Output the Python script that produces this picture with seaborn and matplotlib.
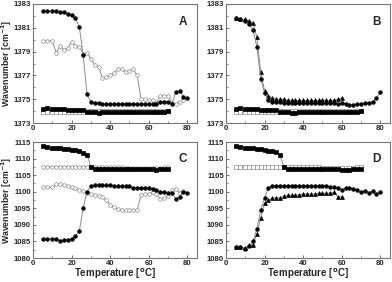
import numpy as np
import pandas as pd
import matplotlib
matplotlib.use("Agg")
import matplotlib.pyplot as plt
from matplotlib.ticker import MultipleLocator, FixedLocator
import seaborn as sns

sns.set_style("ticks")
plt.rcParams['font.family'] = ['Liberation Sans', 'DejaVu Sans']
plt.rcParams['font.weight'] = 'bold'

T = [5, 7, 10, 12, 14, 16, 18, 20, 22, 24, 26, 28, 30, 32, 34, 36, 38, 40, 42, 44,
     46, 48, 50, 52, 54, 56, 58, 60, 62, 64, 66, 68, 70, 72, 74, 76, 78, 80]

# Panel A
a_high = [1382.4, 1382.4, 1382.4, 1382.4, 1382.3, 1382.3, 1382.2, 1382.1, 1381.8, 1381.1,
          1378.7, 1375.4, 1374.8, 1374.7, 1374.7, 1374.6, 1374.6, 1374.6, 1374.6, 1374.6,
          1374.6, 1374.6, 1374.6, 1374.6, 1374.6, 1374.6, 1374.6, 1374.6, 1374.6, 1374.6,
          1374.8, 1374.8, 1374.8, 1374.6, 1375.6, 1375.7, 1375.2, 1375.1]
a_open = [1379.9, 1379.9, 1379.9, 1378.9, 1379.5, 1379.1, 1379.3, 1379.8, 1379.5, 1379.4,
          1378.8, 1378.9, 1378.4, 1377.9, 1377.7, 1376.8, 1376.9, 1377.0, 1377.2, 1377.5,
          1377.5, 1377.3, 1377.4, 1377.5, 1377.0, 1375.0, 1375.0, 1374.9, 1374.9, 1374.7,
          1375.3, 1375.3, 1375.3, 1374.7, 1374.6, 1374.8, 1374.9]
a_sq = [1374.2, 1374.3, 1374.2, 1374.2, 1374.2, 1374.2, 1374.1, 1374.1, 1374.1, 1374.1,
        1374.1, 1373.9, 1373.9, 1373.9, 1373.8, 1373.9, 1373.9, 1373.9, 1373.9, 1373.9,
        1373.9, 1373.9, 1373.9, 1373.9, 1373.9, 1373.9, 1373.9, 1373.9, 1373.9, 1373.9,
        1373.9, 1373.9, 1374.0]
a_osq = [1373.9] * 11 + [1374.0] * 22

# Panel B
b_circ = [1381.8, 1381.7, 1381.6, 1381.3, 1380.8, 1379.4, 1376.7, 1375.5, 1374.9, 1374.8,
          1374.8, 1374.8, 1374.7, 1374.7, 1374.7, 1374.7, 1374.7, 1374.7, 1374.7, 1374.7,
          1374.7, 1374.7, 1374.7, 1374.7, 1374.7, 1374.7, 1374.6, 1374.7, 1374.6, 1374.5,
          1374.5, 1374.6, 1374.6, 1374.7, 1374.7, 1374.8, 1375.1, 1375.6]
b_tri = [1381.8, 1381.7, 1381.7, 1381.6, 1381.4, 1380.2, 1377.3, 1375.7, 1375.3, 1375.1,
         1375.0, 1375.0, 1375.0, 1374.9, 1374.9, 1374.9, 1374.9, 1374.9, 1374.9, 1374.9,
         1374.9, 1374.9, 1374.9, 1374.9, 1374.9, 1374.9, 1375.0, 1375.1]
b_sq = [1374.2, 1374.3, 1374.2, 1374.2, 1374.2, 1374.2, 1374.1, 1374.1, 1374.1, 1374.1,
        1374.1, 1373.9, 1373.9, 1373.9, 1373.8, 1373.8, 1373.9, 1373.9, 1373.9, 1373.9,
        1373.9, 1373.9, 1373.9, 1373.9, 1373.9, 1373.9, 1373.9, 1373.9, 1373.9, 1373.9,
        1373.9, 1373.9, 1374.0]
b_osq = [1373.9] * 11 + [1374.0] * 22

# Panel C
c_sq = [1113.8, 1113.4, 1113.1, 1113.3, 1113.2, 1113.0, 1112.8, 1112.6, 1112.5, 1112.2,
        1111.8, 1111.2, 1107.5, 1107.0, 1107.0, 1107.0, 1107.0, 1107.0, 1107.0, 1107.0,
        1107.0, 1107.0, 1107.0, 1107.0, 1107.0, 1107.0, 1106.9, 1106.8, 1106.8, 1106.6,
        1107.0, 1107.0, 1107.0]
c_osq = [1107.5, 1107.5, 1107.6, 1107.6, 1107.6, 1107.6, 1107.6, 1107.6, 1107.6, 1107.6,
         1107.6, 1107.6, 1107.6, 1107.6, 1107.6, 1107.6, 1107.5, 1107.5, 1107.5, 1107.4,
         1107.4, 1107.3, 1107.3, 1107.3, 1107.3, 1107.2, 1107.2, 1107.2, 1107.1, 1107.1,
         1107.3, 1107.4, 1107.4]
c_circ = [1085.8, 1085.8, 1085.8, 1085.8, 1085.1, 1085.4, 1085.5, 1085.8, 1086.7, 1088.1,
          1095.0, 1100.0, 1101.8, 1101.9, 1101.9, 1101.9, 1101.9, 1101.9, 1101.8, 1101.6,
          1101.6, 1101.6, 1101.6, 1101.2, 1101.2, 1101.2, 1101.2, 1101.0, 1100.8, 1100.4,
          1100.0, 1099.8, 1099.5, 1099.5, 1097.8, 1098.5, 1100.0, 1099.7]
c_open = [1101.4, 1101.3, 1101.3, 1102.3, 1102.2, 1101.9, 1101.7, 1101.5, 1101.0, 1100.5,
          1100.1, 1099.6, 1099.2, 1099.0, 1098.6, 1098.3, 1097.5, 1096.0, 1095.3, 1094.8,
          1094.6, 1094.6, 1094.6, 1094.6, 1094.5, 1099.0, 1099.2, 1099.4, 1099.8, 1099.2,
          1097.9, 1098.2, 1098.6, 1100.5, 1100.8, 1099.6, 1100.3]

# Panel D
d_sq = [1113.7, 1113.4, 1113.1, 1113.3, 1113.2, 1113.0, 1112.8, 1112.6, 1112.4, 1112.2,
        1111.9, 1111.0, 1107.5, 1107.0, 1107.0, 1107.0, 1107.0, 1107.0, 1107.0, 1107.0,
        1107.0, 1107.0, 1107.0, 1107.0, 1107.0, 1106.9, 1106.8, 1106.7, 1106.7, 1106.5,
        1107.0, 1107.0, 1107.0]
d_osq = [1107.5, 1107.5, 1107.6, 1107.6, 1107.6, 1107.6, 1107.6, 1107.6, 1107.6, 1107.6,
         1107.6, 1107.6, 1107.6, 1107.6, 1107.6, 1107.6, 1107.6, 1107.5, 1107.5, 1107.5,
         1107.4, 1107.4, 1107.3, 1107.3, 1107.3, 1107.2, 1107.2, 1107.2, 1107.1, 1107.1,
         1107.3, 1107.4, 1107.4]
d_circ = [1083.4, 1083.3, 1082.8, 1083.5, 1085.0, 1088.8, 1094.5, 1098.2, 1101.2, 1101.8,
          1101.8, 1101.8, 1101.8, 1101.8, 1101.8, 1101.8, 1101.8, 1101.8, 1101.8, 1101.8,
          1101.7, 1101.7, 1101.7, 1101.7, 1101.5, 1101.3, 1101.0, 1100.6, 1101.0, 1101.1,
          1100.9, 1100.5, 1099.8, 1100.2, 1099.7, 1100.1, 1099.2, 1100.0]
d_tri = [1083.4, 1083.3, 1083.0, 1083.8, 1084.0, 1087.2, 1092.1, 1096.5, 1097.5, 1098.0,
         1098.2, 1098.2, 1098.6, 1098.9, 1098.9, 1098.9, 1099.1, 1099.3, 1099.3, 1099.3,
         1099.3, 1099.5, 1099.5, 1099.5, 1099.6, 1099.8, 1098.5, 1098.5]

top_yticks = [1373, 1375, 1377, 1379, 1381, 1383]
bot_yticks = [1080, 1085, 1090, 1095, 1100, 1105, 1110, 1115]
xticks = [0, 20, 40, 60, 80]

GRAY = '#8c8c8c'


def series(ax, y, marker, filled):
    ms = {'o': 2.6, 's': 2.2, '^': 2.8}[marker]
    x = T[:len(y)]
    df = pd.DataFrame({'T': x, 'v': y})
    fc = 'black' if filled else 'white'
    ec = 'black' if filled else GRAY
    sns.lineplot(data=df, x='T', y='v', ax=ax, color=GRAY, lw=0.7, marker=marker,
                 markersize=ms, markerfacecolor=fc, markeredgecolor=ec,
                 markeredgewidth=0.5, sort=False, estimator=None)


fig = plt.figure(figsize=(3.92, 2.82), dpi=100)
W, H = 392, 282
axA = fig.add_axes([33 / W, 1 - 123 / H, 164 / W, 119 / H])
axB = fig.add_axes([226 / W, 1 - 123 / H, 164 / W, 119 / H])
axC = fig.add_axes([33 / W, 1 - 258 / H, 164 / W, 116 / H])
axD = fig.add_axes([226 / W, 1 - 258 / H, 164 / W, 116 / H])

series(axA, a_osq, 's', False)
series(axA, a_sq, 's', True)
series(axA, a_open, 'o', False)
series(axA, a_high, 'o', True)

series(axB, b_osq, 's', False)
series(axB, b_sq, 's', True)
series(axB, b_tri, '^', True)
series(axB, b_circ, 'o', True)

series(axC, c_osq, 'o', False)
series(axC, c_sq, 's', True)
series(axC, c_open, 'o', False)
series(axC, c_circ, 'o', True)

series(axD, d_osq, 's', False)
series(axD, d_sq, 's', True)
series(axD, d_tri, '^', True)
series(axD, d_circ, 'o', True)

for ax, letter, top in [(axA, 'A', True), (axB, 'B', True), (axC, 'C', False), (axD, 'D', False)]:
    ax.set_xlim(0, 85)
    ax.xaxis.set_major_locator(FixedLocator(xticks))
    ax.xaxis.set_minor_locator(MultipleLocator(10))
    if top:
        ax.set_ylim(1373, 1383)
        ax.yaxis.set_major_locator(FixedLocator(top_yticks))
        ax.yaxis.set_minor_locator(MultipleLocator(1))
    else:
        ax.set_ylim(1080, 1115)
        ax.yaxis.set_major_locator(FixedLocator(bot_yticks))
        ax.yaxis.set_minor_locator(MultipleLocator(2.5))
    ax.tick_params(which='both', direction='in', labelsize=5.6, color='#555555', pad=1.5)
    ax.tick_params(which='major', length=2.5, width=0.6)
    ax.tick_params(which='minor', length=1.5, width=0.5)
    for lab in ax.get_xticklabels() + ax.get_yticklabels():
        lab.set_fontweight('bold')
    for s in ax.spines.values():
        s.set_color('#777777')
        s.set_linewidth(0.8)
    ax.set_xlabel('')
    ax.set_ylabel('')
    ax.text(0.915, 0.85, letter, transform=ax.transAxes, fontsize=8.5, fontweight='bold',
            ha='center', va='center')

for ax in (axA, axC):
    ax.set_ylabel('Wavenumber [cm$^{\\mathbf{-1}}$]', fontsize=6.3, fontweight='bold')
    ax.yaxis.set_label_coords(-26 / 164, 0.5)
    ax.yaxis.label.set_va('center')
axC.set_xlabel('Temperature [$^{\\rm o}$C]', fontsize=7, fontweight='bold', labelpad=0)
axD.set_xlabel('Temperature [$^{\\rm o}$C]', fontsize=7, fontweight='bold', labelpad=0)

fig.savefig('out.png', dpi=100)
